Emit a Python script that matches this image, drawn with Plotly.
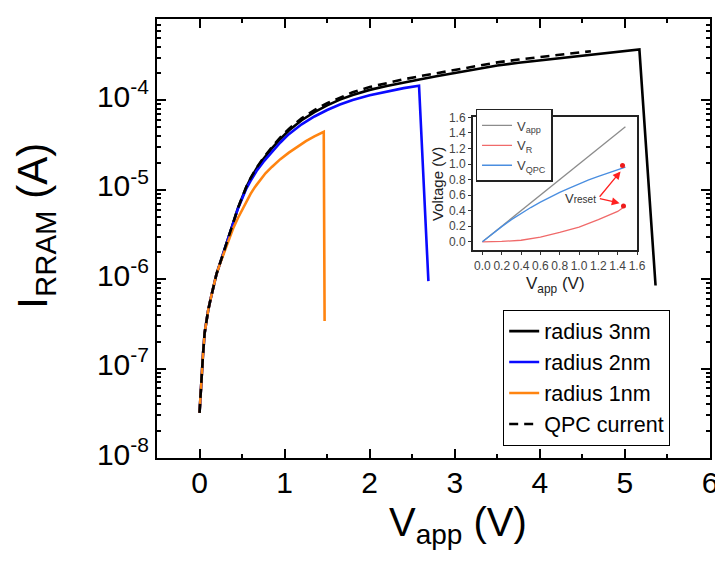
import plotly.graph_objects as go

# ---------------- main-panel data ----------------
v_r3 = [0, 0.01, 0.02, 0.04, 0.06, 0.08, 0.1, 0.13, 0.16, 0.2, 0.25, 0.3, 0.35, 0.4, 0.45,
        0.5, 0.55, 0.6, 0.67, 0.75, 0.85, 0.95, 1.05, 1.2, 1.35, 1.5, 1.65, 1.8, 2.0, 2.2,
        2.4, 2.6, 2.8, 3.0, 3.25, 3.5, 3.75, 4.0, 4.3, 4.6, 4.9, 5.17, 5.36]
i_r3 = [3.2e-8, 5e-8, 8e-8, 1.4e-7, 2.5e-7, 3.5e-7, 4.4e-7, 6e-7, 8e-7, 1.15e-6, 1.6e-6,
        2.2e-6, 3.1e-6, 4.4e-6, 6.2e-6, 8.3e-6, 1.07e-5, 1.33e-5, 1.73e-5, 2.2e-5, 2.9e-5,
        3.7e-5, 4.6e-5, 6.0e-5, 7.4e-5, 8.8e-5, 1.02e-4, 1.15e-4, 1.31e-4, 1.45e-4, 1.59e-4,
        1.72e-4, 1.87e-4, 2.02e-4, 2.24e-4, 2.45e-4, 2.63e-4, 2.8e-4, 3.03e-4, 3.25e-4,
        3.47e-4, 3.7e-4, 8.5e-7]

v_r2 = [0, 0.01, 0.02, 0.04, 0.06, 0.08, 0.1, 0.13, 0.16, 0.2, 0.25, 0.3, 0.35, 0.4, 0.45,
        0.5, 0.55, 0.6, 0.67, 0.75, 0.85, 0.95, 1.05, 1.2, 1.35, 1.5, 1.65, 1.8, 2.0, 2.2,
        2.4, 2.58, 2.69]
i_r2 = [3.2e-8, 5e-8, 8e-8, 1.4e-7, 2.5e-7, 3.5e-7, 4.4e-7, 6e-7, 8e-7, 1.15e-6, 1.6e-6,
        2.2e-6, 3.1e-6, 4.35e-6, 6.1e-6, 8.05e-6, 1.03e-5, 1.26e-5, 1.62e-5, 2.05e-5,
        2.67e-5, 3.38e-5, 4.19e-5, 5.4e-5, 6.6e-5, 7.8e-5, 9.0e-5, 1.01e-4, 1.14e-4,
        1.26e-4, 1.37e-4, 1.46e-4, 9.5e-7]

v_r1 = [0, 0.01, 0.02, 0.04, 0.06, 0.08, 0.1, 0.13, 0.16, 0.2, 0.25, 0.3, 0.35, 0.4, 0.45,
        0.5, 0.55, 0.6, 0.65, 0.7, 0.775, 0.85, 0.95, 1.05, 1.15, 1.25, 1.35, 1.46, 1.47]
i_r1 = [3.2e-8, 5e-8, 8e-8, 1.4e-7, 2.5e-7, 3.5e-7, 4.4e-7, 6e-7, 8e-7, 1.15e-6, 1.58e-6,
        2.15e-6, 2.9e-6, 3.8e-6, 4.8e-6, 6e-6, 7.4e-6, 9e-6, 1.07e-5, 1.25e-5, 1.53e-5,
        1.8e-5, 2.2e-5, 2.6e-5, 3.05e-5, 3.5e-5, 3.95e-5, 4.45e-5, 3.4e-7]

v_qpc = [0, 0.01, 0.02, 0.04, 0.06, 0.08, 0.1, 0.13, 0.16, 0.2, 0.25, 0.3, 0.35, 0.4, 0.45,
         0.5, 0.55, 0.6, 0.67, 0.75, 0.85, 0.95, 1.05, 1.2, 1.35, 1.5, 1.65, 1.8, 2.0, 2.2,
         2.4, 2.6, 2.8, 3.0, 3.25, 3.5, 3.75, 4.0, 4.3, 4.6]
i_qpc = [3.2e-8, 5e-8, 8e-8, 1.4e-7, 2.5e-7, 3.5e-7, 4.4e-7, 6e-7, 8e-7, 1.15e-6, 1.6e-6,
         2.2e-6, 3.1e-6, 4.4e-6, 6.2e-6, 8.4e-6, 1.08e-5, 1.35e-5, 1.76e-5, 2.26e-5, 3.0e-5,
         3.85e-5, 4.8e-5, 6.3e-5, 7.8e-5, 9.3e-5, 1.08e-4, 1.23e-4, 1.41e-4, 1.57e-4,
         1.72e-4, 1.87e-4, 2.03e-4, 2.19e-4, 2.43e-4, 2.66e-4, 2.86e-4, 3.05e-4, 3.3e-4,
         3.55e-4]

x_ticks = [0, 1, 2, 3, 4, 5, 6]
y_tick_exp = [-8, -7, -6, -5, -4]
y_tick_labels = ["10<sup>-8</sup>", "10<sup>-7</sup>", "10<sup>-6</sup>",
                 "10<sup>-5</sup>", "10<sup>-4</sup>"]

# ---------------- inset data ----------------
in_vapp_x = [0, 0.25, 0.5, 0.75, 1.0, 1.25, 1.48]
in_vapp_y = [0, 0.25, 0.5, 0.75, 1.0, 1.25, 1.48]
in_vr_x = [0, 0.2, 0.4, 0.6, 0.8, 1.0, 1.2, 1.4, 1.48]
in_vr_y = [0, 0.005, 0.02, 0.06, 0.12, 0.19, 0.285, 0.39, 0.46]
in_vq_x = [0, 0.1, 0.2, 0.3, 0.4, 0.5, 0.6, 0.7, 0.8, 0.9, 1.0, 1.1, 1.2, 1.3, 1.4, 1.48]
in_vq_y = [0, 0.1, 0.195, 0.285, 0.365, 0.44, 0.51, 0.575, 0.635, 0.69, 0.745, 0.795, 0.84,
           0.88, 0.925, 0.96]
reset_x = [1.45, 1.46]
reset_y = [0.98, 0.46]
arrow_tail = (1.2, 0.56)
arrow_heads = [(1.43, 0.905), (1.42, 0.497)]
reset_label_pos = (1.02, 0.56)

FONT = "Liberation Sans, Arial, sans-serif"

fig = go.Figure()
fig.add_trace(go.Scatter(x=v_r3, y=i_r3, mode="lines", name="radius 3nm",
                         line=dict(color="#000000", width=2.6)))
fig.add_trace(go.Scatter(x=v_r2, y=i_r2, mode="lines", name="radius 2nm",
                         line=dict(color="#0a0aff", width=2.6)))
fig.add_trace(go.Scatter(x=v_r1, y=i_r1, mode="lines", name="radius 1nm",
                         line=dict(color="#ff8410", width=2.6)))
fig.add_trace(go.Scatter(x=v_qpc, y=i_qpc, mode="lines", name="QPC current",
                         line=dict(color="#000000", width=2.6, dash="9px,6px")))

# inset traces
fig.add_trace(go.Scatter(x=in_vapp_x, y=in_vapp_y, mode="lines", name="V<sub>app</sub>",
                         line=dict(color="#8c8c8c", width=1.3), xaxis="x2", yaxis="y2",
                         legend="legend2"))
fig.add_trace(go.Scatter(x=in_vr_x, y=in_vr_y, mode="lines", name="V<sub>R</sub>",
                         line=dict(color="#f06a6a", width=1.3), xaxis="x2", yaxis="y2",
                         legend="legend2"))
fig.add_trace(go.Scatter(x=in_vq_x, y=in_vq_y, mode="lines", name="V<sub>QPC</sub>",
                         line=dict(color="#4a8ee0", width=1.3), xaxis="x2", yaxis="y2",
                         legend="legend2"))
fig.add_trace(go.Scatter(x=reset_x, y=reset_y, mode="markers", showlegend=False,
                         marker=dict(color="#ee1c1c", size=5), xaxis="x2", yaxis="y2"))

minor_vals = [k * 10.0 ** e for e in range(-8, -3) for k in range(2, 10) if k * 10.0 ** e < 8.1e-4]

annotations = []
for hx, hy in arrow_heads:
    annotations.append(dict(x=hx, y=hy, xref="x2", yref="y2", ax=arrow_tail[0], ay=arrow_tail[1],
                            axref="x2", ayref="y2", text="", showarrow=True, arrowhead=2,
                            arrowsize=1.2, arrowwidth=1.3, arrowcolor="#ff2020"))
annotations.append(dict(x=reset_label_pos[0], y=reset_label_pos[1], xref="x2", yref="y2",
                        text="V<span style='font-size:10px'>reset</span>", showarrow=False,
                        font=dict(family=FONT, size=13, color="#333333")))
# axis titles
annotations.append(dict(x=-0.22, y=0.53, xref="paper", yref="paper", text="I<sub>RRAM</sub> (A)",
                        textangle=-90, showarrow=False, xanchor="center", yanchor="middle",
                        font=dict(family=FONT, size=42, color="black")))
annotations.append(dict(x=0.545, y=-0.152, xref="paper", yref="paper", text="V<sub>app</sub> (V)",
                        showarrow=False, xanchor="center", yanchor="middle",
                        font=dict(family=FONT, size=40, color="black")))
annotations.append(dict(x=0.72, y=0.394, xref="paper", yref="paper", text="V<sub>app</sub> (V)",
                        showarrow=False, xanchor="center", yanchor="middle",
                        font=dict(family=FONT, size=17, color="#222222")))
annotations.append(dict(x=0.507, y=0.625, xref="paper", yref="paper", text="Voltage (V)",
                        textangle=-90, showarrow=False, xanchor="center", yanchor="middle",
                        font=dict(family=FONT, size=15, color="#222222")))

# page body has an 8px default margin: the figure is sized so the plot area lands
# at x 157..712, y 12..458 of the window
fig.update_layout(
    width=715, height=549,
    margin=dict(l=149, r=11, t=4, b=99),
    paper_bgcolor="white", plot_bgcolor="white",
    font=dict(family=FONT, color="black"),
    showlegend=True,
    xaxis=dict(range=[-0.5, 6], tickmode="array", tickvals=x_ticks,
               ticks="inside", ticklen=9, tickwidth=2, tickcolor="black",
               ticklabelstandoff=-3,
               minor=dict(ticks="inside", ticklen=4, tickwidth=2, dtick=0.5, tick0=0,
                          tickcolor="black"),
               showline=True, linewidth=2, linecolor="black", mirror="allticks",
               showgrid=False, zeroline=False,
               tickfont=dict(family=FONT, size=30, color="black")),
    yaxis=dict(type="log", range=[-8, -3.09], tickmode="array",
               tickvals=[10.0 ** e for e in y_tick_exp], ticktext=y_tick_labels,
               ticks="inside", ticklen=9, tickwidth=2, tickcolor="black",
               ticklabelshift=-4,
               minor=dict(tickmode="array", tickvals=minor_vals, ticks="inside", ticklen=4,
                          tickwidth=2, tickcolor="black"),
               showline=True, linewidth=2, linecolor="black", mirror="allticks",
               showgrid=False, zeroline=False,
               tickfont=dict(family=FONT, size=30, color="black")),
    xaxis2=dict(domain=[0.571, 0.868], anchor="y2", range=[-0.1, 1.6], dtick=0.2, tick0=0,
                tickformat=".1f", ticks="outside", ticklen=3, tickwidth=1, tickcolor="#333",
                showline=True, linewidth=1.5, linecolor="#222", mirror=True,
                showgrid=False, zeroline=False,
                tickfont=dict(family=FONT, size=12, color="#444444")),
    yaxis2=dict(domain=[0.473, 0.776], anchor="x2", range=[-0.11, 1.6], dtick=0.2, tick0=0,
                tickformat=".1f", ticks="outside", ticklen=3, tickwidth=1, tickcolor="#333",
                showline=True, linewidth=1.5, linecolor="#222", mirror=True,
                showgrid=False, zeroline=False,
                tickfont=dict(family=FONT, size=12, color="#444444")),
    legend=dict(x=0.928, xanchor="right", y=0.338, yanchor="top",
                bordercolor="black", borderwidth=1, bgcolor="white",
                font=dict(family=FONT, size=21.5, color="black"), tracegroupgap=0),
    legend2=dict(x=0.576, xanchor="left", y=0.795, yanchor="top",
                 bordercolor="#222", borderwidth=1.5, bgcolor="white",
                 font=dict(family=FONT, size=13, color="#444444"), tracegroupgap=0),
    annotations=annotations,
)

fig.write_html("out.html")
